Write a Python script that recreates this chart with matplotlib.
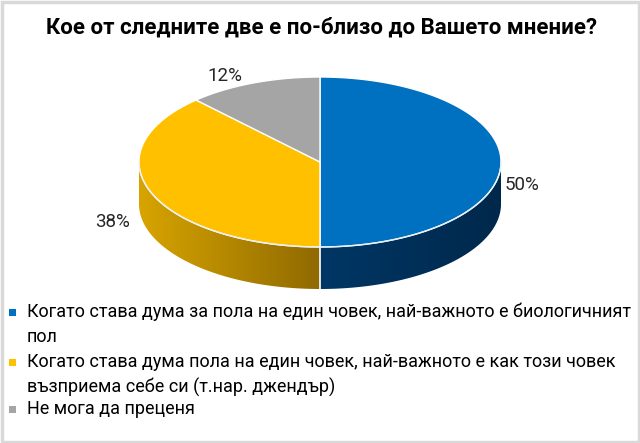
import numpy as np
import matplotlib.pyplot as plt
from matplotlib.patches import Polygon, Rectangle
from matplotlib.colors import to_rgb

plt.rcParams['font.family'] = ['Roboto', 'DejaVu Sans']

title = 'Кое от следните две е по-близо до Вашето мнение?'
labels = ['Когато става дума за пола на един човек, най-важното е биологичният\nпол',
          'Когато става дума пола на един човек, най-важното е как този човек\nвъзприема себе си (т.нар. джендър)',
          'Не мога да преценя']
values = [50, 38, 12]
top_colors = ['#0070C0', '#FFC000', '#A5A5A5']
side_light = ['#013765', '#D8A400', '#8C8C8C']
side_dark = ['#00284C', '#8F6A00', '#5E5E5E']

fig = plt.figure(figsize=(6.4, 4.43), dpi=100)
ax = fig.add_axes([0, 0, 1, 1])
ax.axis('off')

cx, cy, rx, ry, depth = 320, 162, 181, 85, 42


def pt(t):
    r = np.radians(t)
    return cx + rx * np.cos(r), cy - ry * np.sin(r)


# slice angles, clockwise from 12 o'clock
total = sum(values)
starts, ends = [], []
a = 90.0
for v in values:
    starts.append(a)
    a -= 360.0 * v / total
    ends.append(a)

# side walls, front half only, filled with a left-to-right gradient
for i in range(len(values)):
    ts = np.linspace(ends[i], starts[i], 400)
    ts = ts[np.sin(np.radians(ts)) <= 1e-9]
    if len(ts) < 2:
        continue
    xs, ys = pt(ts)
    verts = list(zip(xs, ys)) + list(zip(xs[::-1], ys[::-1] + depth))
    poly = Polygon(verts, closed=True, facecolor='none', edgecolor='none')
    ax.add_patch(poly)
    f = np.linspace(0, 1, 256)
    c1, c2 = np.array(to_rgb(side_light[i])), np.array(to_rgb(side_dark[i]))
    img = (c1[None, :] * (1 - f[:, None]) + c2[None, :] * f[:, None])[None, :, :]
    im = ax.imshow(img, extent=(xs.min(), xs.max(), ys.max() + depth + 1, ys.min() - 1),
                   aspect='auto', interpolation='bilinear', zorder=1)
    im.set_clip_path(poly)

ax.set_xlim(0, 640)
ax.set_ylim(443, 0)

# vertical white edge on the side at the bottom of the pie
ax.plot([cx, cx], [cy + ry, cy + ry + depth], color='white', lw=1.2, zorder=2)

# top faces
for i in range(len(values)):
    ts = np.linspace(starts[i], ends[i], 200)
    xs, ys = pt(ts)
    verts = [(cx, cy)] + list(zip(xs, ys))
    ax.add_patch(Polygon(verts, closed=True, facecolor=top_colors[i],
                         edgecolor='white', lw=1.0, zorder=3))

# light rim along the front edge of the top face
ts = np.linspace(180, 360, 300)
xs, ys = pt(ts)
ax.plot(xs, ys, color='#E8F0F8', lw=1.0, zorder=4)

# data labels
label_pos = [(522, 185), (113, 222), (225, 76)]
for (lx, ly), v in zip(label_pos, values):
    ax.text(lx, ly, f'{v}%', fontsize=13.5, color='#262626', ha='center', va='center')

ax.text(322, 28, title, fontsize=16, fontweight='bold', color='black',
        ha='center', va='center')

# legend
leg_y = [312, 362, 409]
line_gap = 25
for y, lab, col in zip(leg_y, labels, top_colors):
    ax.add_patch(Rectangle((9, y - 3.5), 7, 7, facecolor=col, edgecolor='none'))
    for k, line in enumerate(lab.split('\n')):
        ax.text(27, y + k * line_gap, line, fontsize=13, color='black',
                ha='left', va='center')

# border
ax.add_patch(Rectangle((1.5, 1.5), 637, 440, facecolor='none', edgecolor='#D9D9D9', lw=2.5))

fig.savefig('out.png', dpi=100)
